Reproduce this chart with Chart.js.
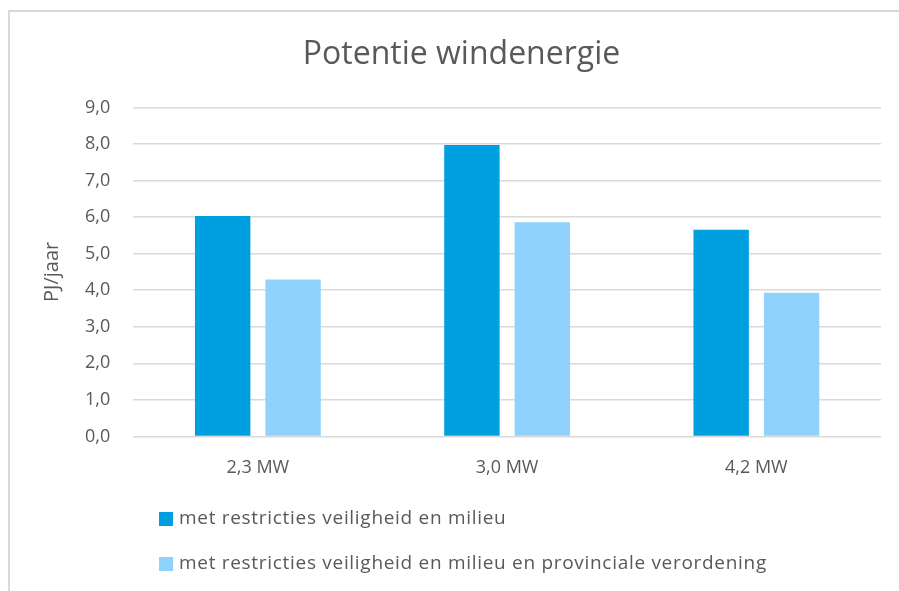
<!DOCTYPE html>
<html>
<head>
<meta charset="utf-8">
<script src="https://cdn.jsdelivr.net/npm/chart.js@4.4.0/dist/chart.umd.min.js"></script>
<style>
  html, body { margin: 0; padding: 0; background: #ffffff; }
  #wrap { position: relative; width: 899px; height: 591px; }
  canvas { display: block; }
</style>
</head>
<body>
<div id="wrap"><canvas id="c" width="899" height="591"></canvas></div>
<script>
const categories = ["2,3 MW", "3,0 MW", "4,2 MW"];
const seriesNames = [
  "met restricties veiligheid en milieu",
  "met restricties veiligheid en milieu en provinciale verordening"
];
const seriesA = [6.03, 7.97, 5.65];
const seriesB = [4.29, 5.86, 3.93];
const yTicks = [0, 1, 2, 3, 4, 5, 6, 7, 8, 9];
const chartTitle = "Potentie windenergie";
const yTitle = "PJ/jaar";

const FONT = "'Open Sans', sans-serif";
const TEXT = "#595959";
const GRID = "#d9d9d9";

const framePlugin = {
  id: "frame",
  beforeDraw(chart) {
    const ctx = chart.ctx;
    ctx.save();
    ctx.strokeStyle = "#d9d9d9";
    ctx.lineWidth = 2;
    ctx.beginPath();
    ctx.moveTo(9, 591);
    ctx.lineTo(9, 11);
    ctx.lineTo(899, 11);
    ctx.stroke();
    ctx.restore();
  }
};

const legendPlugin = {
  id: "customLegend",
  afterDraw(chart) {
    const ctx = chart.ctx;
    ctx.save();
    ctx.font = "19px " + FONT;
    if ("letterSpacing" in ctx) ctx.letterSpacing = "0.7px";
    ctx.textBaseline = "middle";
    ctx.textAlign = "left";
    chart.data.datasets.forEach((ds, i) => {
      const cy = 519 + i * 45;
      ctx.fillStyle = ds.backgroundColor;
      ctx.fillRect(159, cy - 7, 14, 14);
      ctx.fillStyle = TEXT;
      ctx.fillText(ds.label, 179, cy);
    });
    ctx.restore();
  }
};

new Chart(document.getElementById("c"), {
  type: "bar",
  data: {
    labels: categories,
    datasets: [
      { label: seriesNames[0], data: seriesA, backgroundColor: "#009fdf", borderWidth: 0 },
      { label: seriesNames[1], data: seriesB, backgroundColor: "#8fd3fd", borderWidth: 0 }
    ]
  },
  options: {
    responsive: false,
    animation: false,
    devicePixelRatio: 1,
    layout: { padding: { left: 42, right: 18, top: 0, bottom: 91 } },
    categoryPercentage: 0.565,
    barPercentage: 0.787,
    plugins: {
      legend: { display: false },
      tooltip: { enabled: false },
      title: {
        display: true,
        text: chartTitle,
        color: TEXT,
        font: { family: FONT, size: 32, weight: "normal" },
        padding: { top: 36, bottom: 33 }
      }
    },
    scales: {
      x: {
        grid: { display: false, drawTicks: false },
        border: { display: false },
        ticks: { color: TEXT, font: { family: FONT, size: 18 }, padding: 21 }
      },
      y: {
        min: 0,
        max: 9,
        afterBuildTicks(axis) { axis.ticks = yTicks.map(v => ({ value: v })); },
        grid: { color: GRID, lineWidth: 1.5, drawTicks: false },
        border: { display: false },
        ticks: {
          color: TEXT,
          font: { family: FONT, size: 18 },
          padding: 23,
          callback: v => v.toFixed(1).replace(".", ",")
        },
        title: {
          display: true,
          text: yTitle,
          color: TEXT,
          font: { family: FONT, size: 20, lineHeight: 1 },
          padding: { top: 0, bottom: 0 }
        }
      }
    }
  },
  plugins: [framePlugin, legendPlugin]
});
</script>
</body>
</html>
